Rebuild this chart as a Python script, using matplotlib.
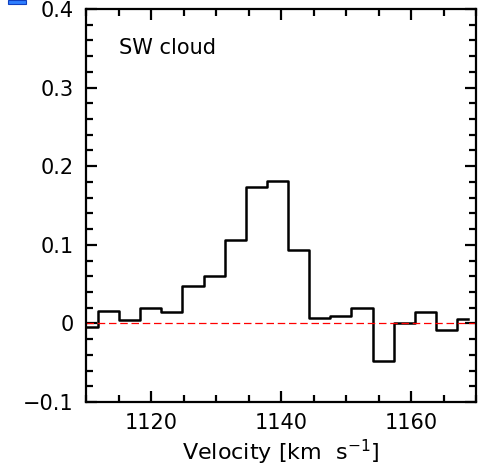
import matplotlib
matplotlib.use("Agg")
import matplotlib.pyplot as plt
from matplotlib.patches import Rectangle
from matplotlib.ticker import MultipleLocator

# channel centres (km/s) and line intensity per channel
velocity = [1110.2, 1113.4, 1116.7, 1119.9, 1123.2, 1126.4, 1129.7, 1132.9,
            1136.2, 1139.4, 1142.7, 1145.9, 1149.2, 1152.4, 1155.7, 1158.9,
            1162.2, 1165.4, 1168.7]
intensity = [-0.004, 0.016, 0.004, 0.020, 0.015, 0.048, 0.060, 0.106,
             0.174, 0.181, 0.094, 0.007, 0.010, 0.020, -0.048, 0.001,
             0.014, -0.008, 0.006]
label = "SW cloud"

plt.rcParams["font.family"] = ["DejaVu Sans"]

fig = plt.figure(figsize=(4.84, 4.66), dpi=100)
ax = fig.add_axes([0.178, 0.137, 0.806, 0.844])

ax.step(velocity, intensity, where="mid", color="black", lw=1.8)
ax.axhline(0, color="red", lw=0.9, dashes=(6, 3))

ax.set_xlim(1110, 1170)
ax.set_ylim(-0.1, 0.4)
ax.xaxis.set_major_locator(MultipleLocator(20))
ax.xaxis.set_minor_locator(MultipleLocator(5))
ax.yaxis.set_major_locator(MultipleLocator(0.1))
ax.yaxis.set_minor_locator(MultipleLocator(0.02))
ax.yaxis.set_major_formatter(plt.FuncFormatter(
    lambda v, p: "0" if abs(v) < 1e-9 else ("\u2212%.1f" % -v if v < 0 else "%.1f" % v)))

ax.tick_params(which="both", direction="in", top=True, right=True,
               width=1.6, labelsize=15)
ax.tick_params(axis="x", pad=8)
ax.tick_params(axis="y", pad=9)
ax.tick_params(which="major", length=8)
ax.tick_params(which="minor", length=5)
for s in ax.spines.values():
    s.set_linewidth(1.6)

ax.set_xlabel("Velocity [km  s$^{-1}$]", fontsize=16, labelpad=3)
ax.text(0.085, 0.885, label, transform=ax.transAxes, fontsize=15)

# small blue mark in the top-left corner
fig.patches.append(Rectangle((8 / 484, 1 - 4 / 466), 18 / 484, 4 / 466,
                             transform=fig.transFigure, facecolor="#2f7fff",
                             edgecolor="#1040c0", lw=0.8))

fig.savefig("out.png", dpi=100)
